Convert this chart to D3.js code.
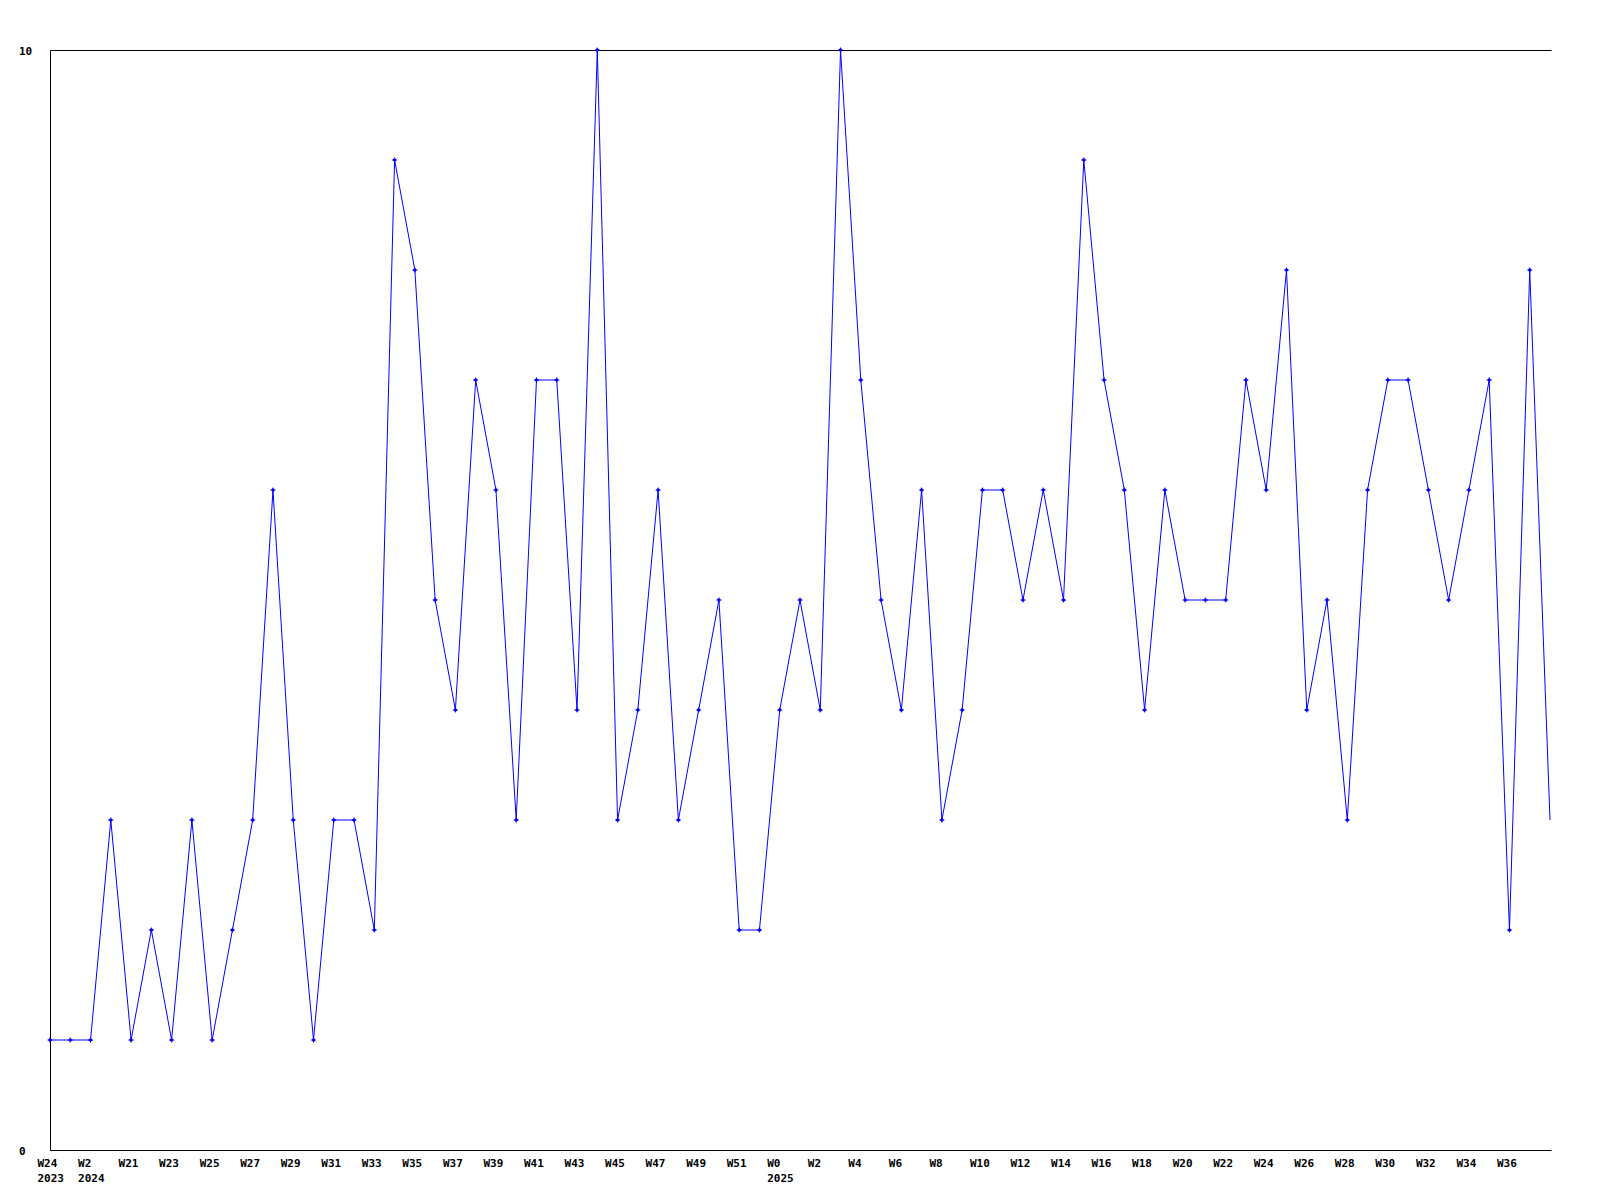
<!DOCTYPE html>
<html>
<head>
  <meta charset="utf-8">
  <style>
    body { margin: 0; background: #fff; }
    svg text { font-family: "DejaVu Sans Mono", "Liberation Mono", monospace; font-weight: bold; font-size: 11px; fill: #000; }
  </style>
  <title>Weekly</title>
</head>
<body>
  <script src="https://cdn.jsdelivr.net/npm/d3@7"></script>
  <script>
    // one value per week, 2023 W24 .. 2025 W38
    var weeks = ["W24", "W52", "W2", "W20",
      "W21", "W22", "W23", "W24", "W25", "W26", "W27", "W28", "W29", "W30", "W31", "W32", "W33", "W34", "W35", "W36",
      "W37", "W38", "W39", "W40", "W41", "W42", "W43", "W44", "W45", "W46", "W47", "W48", "W49", "W50", "W51", "W52",
      "W0", "W1", "W2", "W3", "W4", "W5", "W6", "W7", "W8", "W9", "W10", "W11", "W12", "W13", "W14", "W15", "W16",
      "W17", "W18", "W19", "W20", "W21", "W22", "W23", "W24", "W25", "W26", "W27", "W28", "W29", "W30", "W31", "W32",
      "W33", "W34", "W35", "W36", "W37", "W38"];
    var years = { 0: "2023", 2: "2024", 36: "2025" };
    var values = [1, 1, 1, 3, 1, 2, 1, 3, 1, 2, 3, 6, 3, 1, 3, 3, 2, 9, 8, 5,
      4, 7, 6, 3, 7, 7, 4, 10, 3, 4, 6, 3, 4, 5, 2, 2, 4, 5, 4, 10,
      7, 5, 4, 6, 3, 4, 6, 6, 5, 6, 5, 9, 7, 6, 4, 6, 5, 5, 5, 7,
      6, 8, 4, 5, 3, 6, 7, 7, 6, 5, 6, 7, 2, 8, 3];
    var yTicks = [0, 10];

    var m = { left: 50, right: 1550, top: 50, bottom: 1150 };

    var svg = d3.select("body").append("svg")
      .attr("width", 1600)
      .attr("height", 1200);

    var idx = d3.range(values.length);
    var x = d3.scalePoint().domain(idx).range([m.left, m.right]);
    var y = d3.scaleLinear().domain([0, 10]).range([m.bottom, m.top]);

    // frame: top, left, bottom (no right edge)
    svg.append("path")
      .attr("d", "M" + (m.right + 1) + "," + m.top + "H" + m.left + "V" + m.bottom + "H" + (m.right + 1))
      .attr("fill", "none")
      .attr("stroke", "#000")
      .attr("stroke-width", 1)
      .attr("transform", "translate(0.5,0.5)");

    var yAxis = svg.append("g")
      .attr("transform", "translate(" + m.left + ",0)")
      .call(d3.axisLeft(y).tickValues(yTicks).tickSize(0).tickFormat(d3.format("d")));
    yAxis.select(".domain").remove();
    yAxis.selectAll("text")
      .attr("x", 19 - m.left)
      .attr("dy", null)
      .attr("y", 4)
      .attr("text-anchor", "start");

    var xAxis = svg.append("g")
      .attr("transform", "translate(0," + m.bottom + ")")
      .call(d3.axisBottom(x)
        .tickValues(idx.filter(i => i % 2 == 0 && i < values.length - 1))
        .tickSize(0)
        .tickFormat(i => weeks[i]));
    xAxis.select(".domain").remove();
    xAxis.selectAll("text")
      .attr("text-anchor", "start")
      .attr("x", -13)
      .attr("dy", null)
      .attr("y", 17);
    xAxis.selectAll(".tick")
      .filter(i => years[i])
      .append("text")
      .attr("text-anchor", "start")
      .attr("x", -13)
      .attr("y", 32)
      .text(i => years[i]);

    var line = d3.line()
      .x(i => x(i))
      .y(i => y(values[i]));

    svg.append("path").datum(idx)
      .attr("d", line)
      .attr("fill", "none")
      .attr("stroke", "#0000ff")
      .attr("stroke-width", 1);

    // small cross markers, last (open) week has none
    svg.selectAll(".pt")
      .data(idx.slice(0, -1))
      .enter().append("path")
      .attr("class", "pt")
      .attr("transform", i => "translate(" + x(i) + "," + y(values[i]) + ")")
      .attr("d", "M-2.5,0H2.5M0,-2.5V2.5M-1,-1H1V1H-1Z")
      .attr("fill", "#0000ff")
      .attr("stroke", "#0000ff")
      .attr("stroke-width", 1);
  </script>
</body>
</html>
